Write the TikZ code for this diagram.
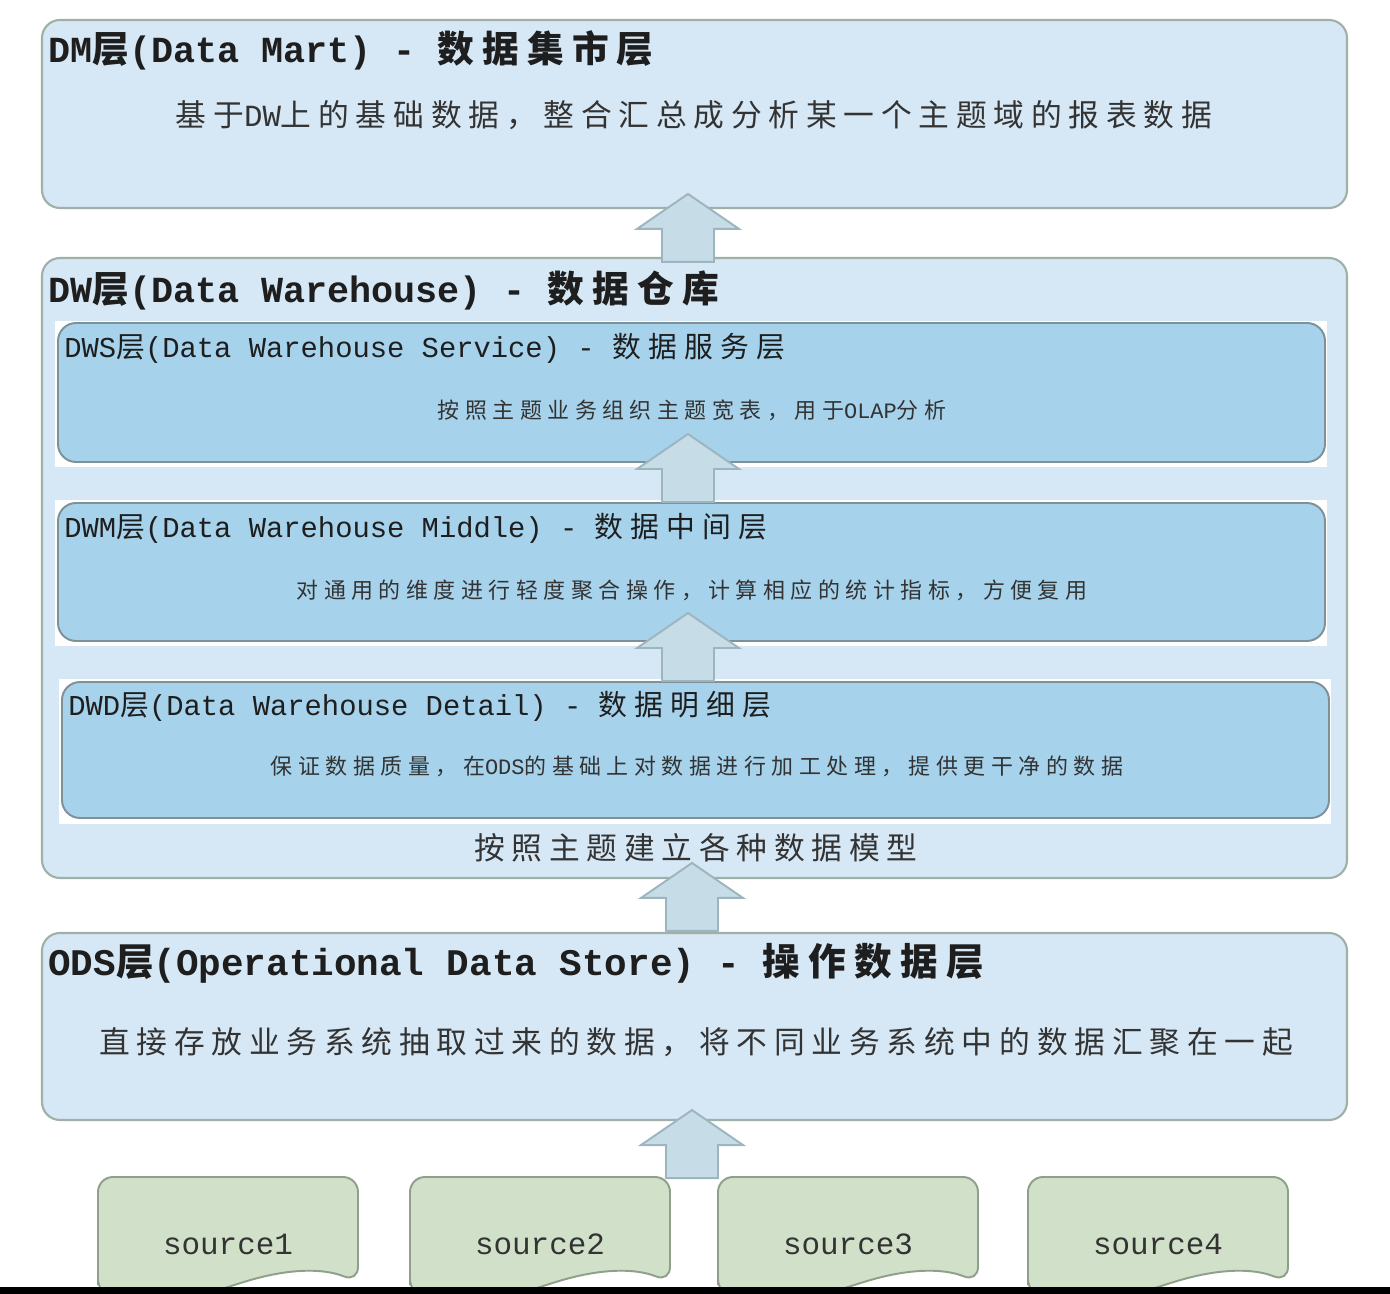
\documentclass[tikz,border=0pt]{standalone}
\usepackage{fontspec}
\setmainfont{Liberation Mono}
\newfontfamily\cjkA[LetterSpace=22]{Noto Sans CJK SC}
\newfontfamily\cjkB[LetterSpace=22]{Noto Sans CJK SC}
\newfontfamily\cjkC[LetterSpace=25]{Noto Sans CJK SC}
\newfontfamily\cjkD[LetterSpace=25]{Noto Sans CJK SC}
\usetikzlibrary{fit}
\definecolor{outerfill}{HTML}{D6E8F5}
\definecolor{outerline}{HTML}{9FB0A8}
\definecolor{innerfill}{HTML}{A6D2EB}
\definecolor{innerline}{HTML}{7E9199}
\definecolor{arrowfill}{HTML}{C6DCE6}
\definecolor{arrowline}{HTML}{9DB5BF}
\definecolor{srcfill}{HTML}{D1E1C9}
\definecolor{srcline}{HTML}{8E9F8A}
\definecolor{inktext}{HTML}{1E1E1E}
\definecolor{greytext}{HTML}{333333}
\tikzset{
  outerbox/.style={draw=outerline, fill=outerfill, line width=1.2pt, rounded corners=3.6mm, inner sep=0pt},
  innerbox/.style={draw=innerline, fill=innerfill, line width=1.1pt, rounded corners=3.6mm, inner sep=0pt},
  backing/.style={fill=white, inner sep=0pt},
  bigtitle/.style={anchor=west, inner sep=0pt, text=inktext, font=\fontsize{20.9}{24}\selectfont\bfseries},
  bignote/.style={inner sep=0pt, text=greytext, font=\fontsize{17.5}{21}\selectfont},
  smalltitle/.style={anchor=west, inner sep=0pt, text=inktext, font=\fontsize{16.4}{19}\selectfont},
  smallnote/.style={inner sep=0pt, text=greytext, font=\fontsize{12.5}{15}\selectfont},
  arrowshape/.style={draw=arrowline, fill=arrowfill, line width=1.1pt, line join=miter},
  srcshape/.style={draw=srcline, fill=srcfill, line width=1.1pt, rounded corners=3mm},
  srctext/.style={inner sep=0pt, text=greytext, font=\fontsize{17.6}{21}\selectfont},
  uparr/.pic={\draw[arrowshape] (-26,0) -- (-26,-33) -- (-51,-33) -- (0,-68) -- (51,-33) -- (26,-33) -- (26,0) -- cycle;}
}
\begin{document}
\begin{tikzpicture}[x=0.2mm,y=-0.2mm]
\useasboundingbox (0,0) rectangle (1390,1294);
\fill[white] (0,0) rectangle (1390,1294);

% DM
\node [outerbox, fit={(42,20) (1347,208)}] (dm) {};
\node [bigtitle] (dmtitle) at (48,50) {DM{\cjkA 层}(Data Mart) - {\cjkA 数据集市层}};
\node [bignote] (dmnote) at (694,115) {{\cjkB 基于}DW{\cjkB 上的基础数据，整合汇总成分析某一个主题域的报表数据}};

% DW
\node [outerbox, fit={(42,258) (1347,878)}] (dw) {};
\node [bigtitle] (dwtitle) at (48,290) {DW{\cjkA 层}(Data Warehouse) - {\cjkA 数据仓库}};
\node [backing, fit={(55,321) (1327,467)}] (dwsback) {};
\node [innerbox, fit={(58,323) (1325,462)}] (dws) {};
\node [smalltitle] (dwstitle) at (64,348) {DWS{\cjkC 层}(Data Warehouse Service) - {\cjkC 数据服务层}};
\node [smallnote] (dwsnote) at (692,410) {{\cjkD 按照主题业务组织主题宽表，用于}OLAP{\cjkD 分析}};
\node [backing, fit={(55,500) (1327,646)}] (dwmback) {};
\node [innerbox, fit={(58,503) (1325,641)}] (dwm) {};
\node [smalltitle] (dwmtitle) at (64,528) {DWM{\cjkC 层}(Data Warehouse Middle) - {\cjkC 数据中间层}};
\node [smallnote] (dwmnote) at (692,590) {{\cjkD 对通用的维度进行轻度聚合操作，计算相应的统计指标，方便复用}};
\node [backing, fit={(59,679) (1331,824)}] (dwdback) {};
\node [innerbox, fit={(62,682) (1329,818)}] (dwd) {};
\node [smalltitle] (dwdtitle) at (68,706) {DWD{\cjkC 层}(Data Warehouse Detail) - {\cjkC 数据明细层}};
\node [smallnote] (dwdnote) at (697,766) {{\cjkD 保证数据质量，在}ODS{\cjkD 的基础上对数据进行加工处理，提供更干净的数据}};
\node [bignote] (dwnote) at (696,848) {{\cjkB 按照主题建立各种数据模型}};

% ODS
\node [outerbox, fit={(42,933) (1347,1120)}] (ods) {};
\node [bigtitle, font=\fontsize{21.4}{25}\selectfont\bfseries] (odstitle) at (48,963) {ODS{\cjkA 层}(Operational Data Store) - {\cjkA 操作数据层}};
\node [bignote] (odsnote) at (696,1042) {{\cjkB 直接存放业务系统抽取过来的数据，将不同业务系统中的数据汇聚在一起}};

% arrows
\path (dw.north) ++(-6.5,5) pic {uparr};
\path (dwm.north) ++(-3.5,0) pic {uparr};
\path (dwd.north) ++(-7.5,0) pic {uparr};
\path (ods.north) ++(-2.5,-1) pic {uparr};
\path (ods.south) ++(-2.5,57) pic {uparr};

% sources
\draw[srcshape] (98,1294) -- (98,1177) -- (358,1177) -- (358,1282) .. controls (323,1268) and (288,1268) .. (228,1287) .. controls (168,1306) and (133,1306) .. (98,1294) -- cycle;
\node [srctext] (src1) at (228,1244) {source1};
\draw[srcshape] (410,1294) -- (410,1177) -- (670,1177) -- (670,1282) .. controls (635,1268) and (600,1268) .. (540,1287) .. controls (480,1306) and (445,1306) .. (410,1294) -- cycle;
\node [srctext] (src2) at (540,1244) {source2};
\draw[srcshape] (718,1294) -- (718,1177) -- (978,1177) -- (978,1282) .. controls (943,1268) and (908,1268) .. (848,1287) .. controls (788,1306) and (753,1306) .. (718,1294) -- cycle;
\node [srctext] (src3) at (848,1244) {source3};
\draw[srcshape] (1028,1294) -- (1028,1177) -- (1288,1177) -- (1288,1282) .. controls (1253,1268) and (1218,1268) .. (1158,1287) .. controls (1098,1306) and (1063,1306) .. (1028,1294) -- cycle;
\node [srctext] (src4) at (1158,1244) {source4};

\fill[black] (0,1287) rectangle (1390,1294);
\end{tikzpicture}
\end{document}
